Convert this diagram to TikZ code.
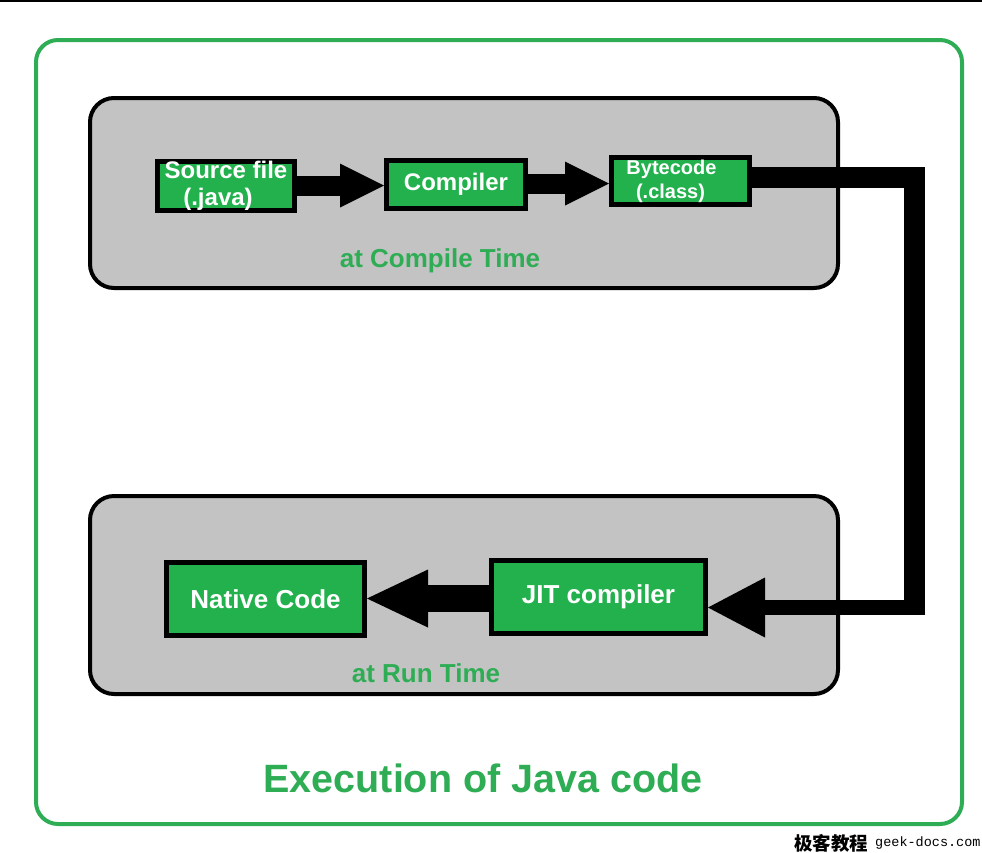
\documentclass[tikz,border=0pt]{standalone}
\usepackage{fontspec}
\setmainfont{Liberation Sans}
\newfontfamily\cjkfont{Noto Sans CJK SC}
\newfontfamily\monofont{Liberation Mono}
\usetikzlibrary{arrows.meta}
\definecolor{pgreen}{HTML}{22B14C}
\definecolor{lgreen}{HTML}{2EAD55}
\definecolor{pgrey}{HTML}{C3C3C3}
\tikzset{
  stagebox/.style={draw=black, line width=4pt, fill=pgrey, rounded corners=24pt},
  gbox/.style={draw=black, line width=5pt, fill=pgreen, text=white, font=\bfseries, inner sep=0pt, align=center},
  lbl/.style={text=lgreen, font=\bfseries\fontsize{26}{28}\selectfont},
  fat/.style={draw=black, line width=#1},
}
\begin{document}
\begin{tikzpicture}[x=1pt,y=-1pt]
\useasboundingbox (0,0) rectangle (982,852);
\fill[white] (0,0) rectangle (982,852);
\draw[line width=2pt] (0,1) -- (982,1);
% outer frame
\draw[draw=lgreen, line width=4pt, rounded corners=22pt] (36,40) rectangle (962,824);
% stage boxes
\draw[stagebox] (90,98) rectangle (838,288);
\draw[stagebox] (90,496) rectangle (838,694);
% nodes
\node[gbox, minimum width=137pt, minimum height=49pt, font=\bfseries\fontsize{24}{27}\selectfont] (src) at (226,186) {Source file\\\hspace*{-16pt}(.java)};
\node[gbox, minimum width=139pt, minimum height=48pt, font=\bfseries\fontsize{24}{27}\selectfont] (cmp) at (456,184.5) {Compiler};
\node[gbox, minimum width=138pt, minimum height=47pt, font=\bfseries\fontsize{20}{24}\selectfont] (byte) at (680.5,181) {Bytecode\hspace*{18pt}\\(.class)\hspace*{20pt}};
\node[gbox, minimum width=198pt, minimum height=73pt, font=\bfseries\fontsize{26}{28}\selectfont] (nat) at (265.5,599) {Native Code};
\node[gbox, minimum width=214pt, minimum height=73pt, font=\bfseries\fontsize{26}{28}\selectfont] (jit) at (598.5,597) {JIT compiler};
% labels
\node[lbl] (ct) at (440,261) {at Compile Time};
\node[lbl] (rt) at (426,673) {at Run Time};
\node[text=lgreen, font=\bfseries\fontsize{39.5}{42}\selectfont] (title) at (483,778) {Execution of Java code};
% arrows
\draw[fat=20pt, -{Triangle[length=44pt,width=44pt,line width=0pt]}] (src.east |- 0,185.5) -- (cmp.west |- 0,185.5);
\draw[fat=20pt, -{Triangle[length=44pt,width=44pt,line width=0pt]}] (cmp.east |- 0,183.5) -- (byte.west |- 0,183.5);
\draw[fat=27pt, -{Triangle[length=61pt,width=58pt,line width=0pt]}] (jit.west |- 0,598.5) -- (nat.east |- 0,598.5);
\coordinate (c1) at (914,177.5);
\coordinate (c2) at (914,615);
\coordinate (c3) at (925,607.5);
\draw[fat=21pt, line join=miter] (byte.east |- c1) -- (c1) -- (c2);
\draw[fat=15pt, -{Triangle[length=57pt,width=60pt,line width=0pt]}] (c3) -- (jit.east |- c3);
% watermark
\node[anchor=west, inner sep=0pt, font=\cjkfont\bfseries\fontsize{18.5}{19}\selectfont] (wm1) at (794,843) {极客教程};
\node[anchor=west, inner sep=0pt, font=\monofont\fontsize{13.5}{14}\selectfont] (wm2) at (875,843) {geek-docs.com};
\end{tikzpicture}
\end{document}
